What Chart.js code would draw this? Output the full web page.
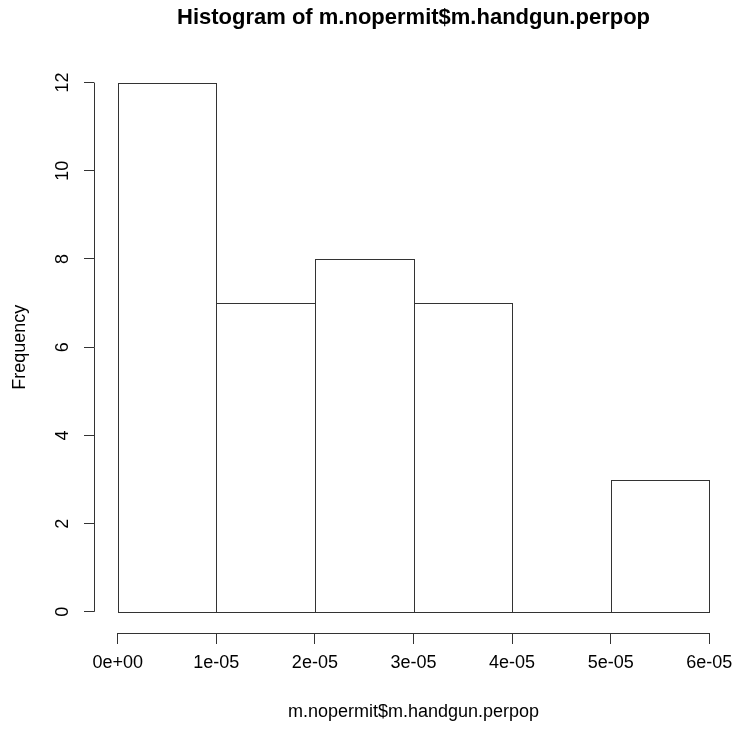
<!DOCTYPE html>
<html>
<head>
<meta charset="utf-8">
<script src="https://cdn.jsdelivr.net/npm/chart.js@4"></script>
<style>
  body { margin: 0; background: #fff; }
  canvas { display: block; }
</style>
</head>
<body>
<canvas id="histChart" width="735" height="732"></canvas>
<script>
    // histogram data
    const binEdges = [0, 1e-5, 2e-5, 3e-5, 4e-5, 5e-5, 6e-5];
    const counts = [12, 7, 8, 7, 0, 3];
    const xTickLabels = ['0e+00', '1e-05', '2e-05', '3e-05', '4e-05', '5e-05', '6e-05'];
    const yTicks = [0, 2, 4, 6, 8, 10, 12];

    const fontFamily = '"Liberation Sans", Arial, sans-serif';
    const lineColor = '#333';

    // R style: axis line only from first to last tick, each bin outlined as a rect
    const rStyle = {
        id: 'rStyle',
        afterDatasetsDraw(chart) {
            const ctx = chart.ctx;
            const meta = chart.getDatasetMeta(0);
            const bottom = Math.round(chart.scales.y.getPixelForValue(0)) + 0.5;
            ctx.save();
            ctx.strokeStyle = lineColor;
            ctx.lineWidth = 1;
            meta.data.forEach(bar => {
                const p = bar.getProps(['x', 'y', 'width'], true);
                const left = Math.round(p.x - p.width / 2) + 0.5;
                const right = Math.round(p.x + p.width / 2) + 0.5;
                const top = Math.round(p.y) + 0.5;
                ctx.strokeRect(left, top, right - left, bottom - top);
            });
            ctx.restore();
        },
        afterDraw(chart) {
            const ctx = chart.ctx;
            const x = chart.scales.x;
            const y = chart.scales.y;
            const area = chart.chartArea;
            ctx.save();
            ctx.strokeStyle = lineColor;
            ctx.lineWidth = 1;
            ctx.beginPath();
            ctx.moveTo(Math.round(area.left) + 0.5, y.getPixelForValue(yTicks[0]));
            ctx.lineTo(Math.round(area.left) + 0.5, y.getPixelForValue(yTicks[yTicks.length - 1]));
            ctx.moveTo(x.getPixelForValue(binEdges[0]), Math.round(area.bottom) + 0.5);
            ctx.lineTo(x.getPixelForValue(binEdges[binEdges.length - 1]), Math.round(area.bottom) + 0.5);
            ctx.stroke();
            ctx.restore();
        }
    };

    const ctx = document.getElementById('histChart');

    const histChart = new Chart(ctx, {
        type: 'bar',
        data: {
            datasets: [{
                data: counts.map((c, i) => ({ x: (binEdges[i] + binEdges[i + 1]) / 2, y: c })),
                backgroundColor: '#fff',
                borderWidth: 0,
                barPercentage: 1,
                categoryPercentage: 1
            }]
        },
        options: {
            responsive: false,
            animation: false,
            layout: { padding: { top: 0, right: 2, bottom: 0, left: 0 } },
            plugins: {
                legend: { display: false },
                tooltip: { enabled: false },
                title: {
                    display: true,
                    fullSize: false,
                    text: 'Histogram of m.nopermit$m.handgun.perpop',
                    color: '#000',
                    font: { family: fontFamily, size: 22, weight: 'bold', lineHeight: 1.2 },
                    padding: { top: 5, bottom: 30 }
                }
            },
            scales: {
                x: {
                    type: 'linear',
                    offset: false,
                    min: -0.24e-5,
                    max: 6.24e-5,
                    afterBuildTicks: (scale) => { scale.ticks = binEdges.map(v => ({ value: v })); },
                    afterFit: (scale) => {
                        scale.height = 99;
                        scale.paddingLeft = 0;
                        scale.paddingRight = 0;
                    },
                    grid: { offset: false, drawOnChartArea: false, drawTicks: true, tickLength: 11, color: lineColor },
                    border: { display: false },
                    ticks: {
                        autoSkip: false,
                        maxRotation: 0,
                        padding: 8,
                        color: '#000',
                        font: { family: fontFamily, size: 18 },
                        callback: (value, index) => xTickLabels[index]
                    },
                    title: {
                        display: true,
                        text: 'm.nopermit$m.handgun.perpop',
                        color: '#000',
                        font: { family: fontFamily, size: 18 },
                        padding: { top: 0, bottom: 9 }
                    }
                },
                y: {
                    min: -0.48,
                    max: 12.48,
                    afterBuildTicks: (scale) => { scale.ticks = yTicks.map(v => ({ value: v })); },
                    afterFit: (scale) => {
                        scale.width = 94;
                        scale.paddingTop = 0;
                        scale.paddingBottom = 0;
                    },
                    grid: { drawOnChartArea: false, drawTicks: true, tickLength: 10, color: lineColor },
                    border: { display: false },
                    ticks: {
                        autoSkip: false,
                        minRotation: 90,
                        maxRotation: 90,
                        crossAlign: 'center',
                        padding: 11,
                        color: '#000',
                        font: { family: fontFamily, size: 18 }
                    },
                    title: {
                        display: true,
                        text: 'Frequency',
                        color: '#000',
                        font: { family: fontFamily, size: 18 },
                        padding: { top: 9, bottom: 0 }
                    }
                }
            }
        },
        plugins: [rStyle]
    });
</script>
</body>
</html>
